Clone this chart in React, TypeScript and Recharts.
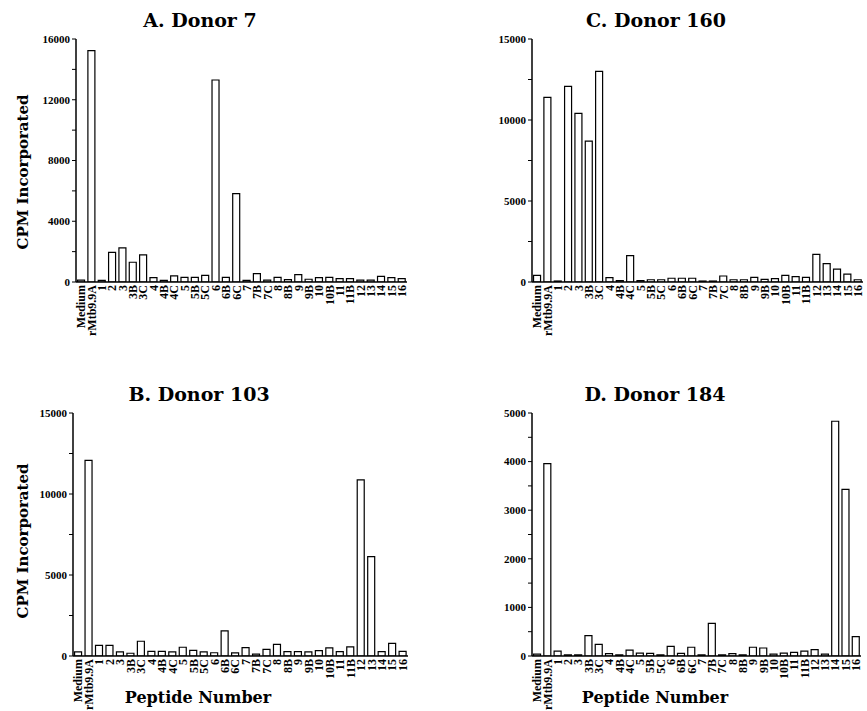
import { BarChart, Bar, XAxis, YAxis } from "recharts";

const categories = [
  "Medium", "rMtb9.9A", "1", "2", "3", "3B", "3C", "4", "4B", "4C", "5", "5B", "5C",
  "6", "6B", "6C", "7", "7B", "7C", "8", "8B", "9", "9B", "10", "10B", "11", "11B",
  "12", "13", "14", "15", "16",
];

const donor7 = [
  120, 15230, 110, 1950, 2250, 1300, 1780, 290, 110, 400, 310, 310, 440,
  13300, 310, 5820, 110, 550, 130, 310, 150, 480, 180, 290, 310, 220, 220,
  130, 130, 370, 290, 220,
];
const donor103 = [
  250, 12070, 660, 660, 250, 170, 910, 290, 290, 250, 540, 350, 250,
  200, 1550, 190, 520, 120, 410, 720, 270, 270, 250, 330, 500, 270, 560,
  10870, 6130, 270, 780, 290,
];
const donor160 = [
  410, 11400, 60, 12080, 10410, 8700, 13000, 270, 80, 1630, 80, 140, 140,
  230, 230, 230, 60, 60, 370, 140, 140, 290, 160, 210, 410, 330, 290,
  1710, 1130, 800, 490, 140,
];
const donor184 = [
  40, 3960, 100, 25, 25, 420, 240, 50, 25, 120, 60, 55, 25,
  200, 55, 180, 25, 670, 25, 50, 25, 180, 165, 40, 60, 75, 100,
  130, 40, 4830, 3430, 400,
];

const rows = categories.map((name, i) => ({
  name,
  d7: donor7[i],
  d103: donor103[i],
  d160: donor160[i],
  d184: donor184[i],
}));

const serif = "'Liberation Serif', serif";
const titleFont = "'DejaVu Serif', serif";

const range = (max: number, step: number) => {
  const out: number[] = [];
  for (let v = 0; v <= max; v += step) out.push(v);
  return out;
};

const XTick = (props: any) => {
  const { x, y, payload } = props;
  return (
    <text
      x={x}
      y={y}
      transform={`rotate(-90, ${x}, ${y})`}
      textAnchor="end"
      dy="0.35em"
      fontFamily={serif}
      fontWeight="bold"
      fontSize={12}
      fill="#000"
    >
      {payload.value}
    </text>
  );
};

const makeYTick = (major: number) => (props: any) => {
  const { x, y, payload } = props;
  if (payload.value % major !== 0) return <g />;
  return (
    <text x={x} y={y} dy="0.35em" textAnchor="end" fontFamily={serif} fontWeight="bold" fontSize={11} fill="#000">
      {payload.value}
    </text>
  );
};

interface PanelProps {
  dataKey: string;
  left: number;
  top: number;
  width: number;
  height: number;
  margin: { top: number; right: number; bottom: number; left: number };
  max: number;
  major: number;
  minor: number;
}

const Panel = ({ dataKey, left, top, width, height, margin, max, major, minor }: PanelProps) => (
  <div style={{ position: "absolute", left, top }}>
    <BarChart width={width} height={height} data={rows} margin={margin} barCategoryGap="15%">
      <XAxis
        dataKey="name"
        interval={0}
        tick={XTick}
        tickLine={false}
        tickSize={2}
        tickMargin={1}
        height={60}
        axisLine={{ stroke: "#000", strokeWidth: 1.5 }}
      />
      <YAxis
        width={50}
        domain={[0, max]}
        ticks={range(max, minor)}
        tick={makeYTick(major)}
        tickSize={4}
        tickMargin={2}
        interval={0}
        allowDataOverflow
        axisLine={{ stroke: "#000", strokeWidth: 1.5 }}
        tickLine={{ stroke: "#000", strokeWidth: 1 }}
      />
      <Bar dataKey={dataKey} fill="#fff" stroke="#000" strokeWidth={1.2} isAnimationActive={false} />
    </BarChart>
  </div>
);

const titles = [
  { text: "A. Donor 7", x: 200, y: 20 },
  { text: "C. Donor 160", x: 656, y: 20 },
  { text: "B. Donor 103", x: 199, y: 394 },
  { text: "D. Donor 184", x: 655, y: 394 },
];

export default function App() {
  return (
    <div style={{ position: "absolute", left: 0, top: 0, width: 867, height: 711, background: "#fff" }}>
      <Panel dataKey="d7" left={0} top={0} width={440} height={360}
        margin={{ top: 39, right: 33, bottom: 18, left: 26 }} max={16000} major={4000} minor={2000} />
      <Panel dataKey="d160" left={440} top={0} width={427} height={360}
        margin={{ top: 39, right: 4, bottom: 18, left: 42 }} max={15000} major={5000} minor={2500} />
      <Panel dataKey="d103" left={0} top={360} width={440} height={351}
        margin={{ top: 53, right: 32, bottom: -5, left: 23 }} max={15000} major={5000} minor={2500} />
      <Panel dataKey="d184" left={440} top={360} width={427} height={351}
        margin={{ top: 53, right: 6, bottom: -5, left: 42 }} max={5000} major={1000} minor={500} />
      <svg width={867} height={711} style={{ position: "absolute", left: 0, top: 0, pointerEvents: "none" }}>
        {titles.map((t) => (
          <text key={t.text} x={t.x} y={t.y} dy="0.35em" textAnchor="middle" fontFamily={titleFont} fontWeight="bold" fontSize={19}>
            {t.text}
          </text>
        ))}
        {[172, 541].map((cy) => (
          <text key={cy} x={23} y={cy} transform={`rotate(-90, 23, ${cy})`} dy="0.35em" textAnchor="middle"
            fontFamily={titleFont} fontWeight="bold" fontSize={15}>
            CPM Incorporated
          </text>
        ))}
        {[198, 655].map((cx) => (
          <text key={cx} x={cx} y={697} dy="0.35em" textAnchor="middle" fontFamily={titleFont} fontWeight="bold" fontSize={16}>
            Peptide Number
          </text>
        ))}
      </svg>
    </div>
  );
}
